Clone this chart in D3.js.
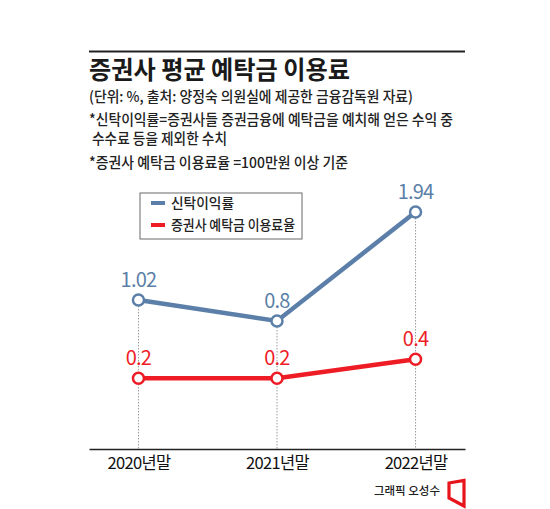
<!DOCTYPE html>
<html>
<head>
<meta charset="utf-8">
<script src="https://cdn.jsdelivr.net/npm/d3@7"></script>
<style>
  html, body { margin: 0; padding: 0; background: #fff; }
  svg { display: block; font-family: "Noto Sans CJK KR", "Noto Sans", sans-serif; }
</style>
</head>
<body>
<div id="chart"></div>
<script>
const years = ["2020년말", "2021년말", "2022년말"];
const trustRate = [1.02, 0.8, 1.94];     // 신탁이익률
const depositRate = [0.2, 0.2, 0.4];     // 증권사 예탁금 이용료율
const seriesNames = ["신탁이익률", "증권사 예탁금 이용료율"];
const seriesColors = ["#5b7fa8", "#ee1c25"];

const width = 550, height = 509;

const svg = d3.select("#chart")
  .append("svg")
  .attr("width", width)
  .attr("height", height);

// header
svg.append("line")
  .attr("x1", 89).attr("x2", 465)
  .attr("y1", 51.5).attr("y2", 51.5)
  .attr("stroke", "#222").attr("stroke-width", 2);

svg.append("text")
  .attr("x", 89).attr("y", 79)
  .attr("font-size", 25).attr("font-weight", 700)
  .attr("fill", "#1a1a1a")
  .attr("textLength", 261).attr("lengthAdjust", "spacingAndGlyphs")
  .text("증권사 평균 예탁금 이용료");

const notes = [
  {text: "(단위: %, 출처: 양정숙 의원실에 제공한 금융감독원 자료)", x: 89, y: 102, w: 324},
  {text: "*신탁이익률=증권사들 증권금융에 예탁금을 예치해 얻은 수익 중", x: 89, y: 125, w: 364},
  {text: "수수료 등을 제외한 수치", x: 92, y: 144, w: 135},
  {text: "*증권사 예탁금 이용료율 =100만원 이상 기준", x: 89, y: 168, w: 259}
];
svg.selectAll(".note")
  .data(notes)
  .enter()
  .append("text")
  .attr("class", "note")
  .attr("x", d => d.x).attr("y", d => d.y)
  .attr("font-size", 14.5)
  .attr("font-weight", 500)
  .attr("fill", "#222")
  .attr("textLength", d => d.w).attr("lengthAdjust", "spacingAndGlyphs")
  .text(d => d.text);

// scales
const x = d3.scalePoint()
  .domain(years)
  .range([89, 465])
  .padding(0.357);

const y = d3.scaleLinear()
  .domain([-0.54, 1.94])
  .range([449, 212]);

// dotted guides
svg.selectAll(".guide")
  .data(years)
  .enter()
  .append("line")
  .attr("class", "guide")
  .attr("x1", d => x(d)).attr("x2", d => x(d))
  .attr("y1", (d, i) => y(trustRate[i])).attr("y2", y.range()[0])
  .attr("stroke", "#999").attr("stroke-width", 1)
  .attr("stroke-dasharray", "1.5,1.5");

// x axis
const xAxis = svg.append("g")
  .attr("transform", `translate(0,${y.range()[0]})`)
  .call(d3.axisBottom(x).tickSize(0).tickSizeOuter(0).tickPadding(8));
xAxis.select(".domain").attr("stroke", "#222").attr("stroke-width", 1.5);
xAxis.selectAll("text")
  .attr("font-family", "\"Noto Sans CJK KR\", sans-serif")
  .attr("font-size", 16.5)
  .attr("letter-spacing", -0.7)
  .attr("fill", "#111");

// lines
const line = d3.line()
  .x((d, i) => x(years[i]))
  .y(d => y(d));

[trustRate, depositRate].forEach((vals, s) => {
  const color = seriesColors[s];
  svg.append("path")
    .datum(vals)
    .attr("fill", "none")
    .attr("stroke", color)
    .attr("stroke-width", 4.5)
    .attr("d", line);

  svg.selectAll(".pt" + s)
    .data(vals)
    .enter()
    .append("circle")
    .attr("class", "pt" + s)
    .attr("cx", (d, i) => x(years[i]))
    .attr("cy", d => y(d))
    .attr("r", 5.5)
    .attr("fill", "#fff")
    .attr("stroke", color)
    .attr("stroke-width", 2.5);

  svg.selectAll(".lbl" + s)
    .data(vals)
    .enter()
    .append("text")
    .attr("class", "lbl" + s)
    .attr("x", (d, i) => x(years[i]))
    .attr("y", d => y(d) - 13)
    .attr("text-anchor", "middle")
    .attr("font-size", 20)
    .attr("letter-spacing", -0.8)
    .attr("fill", color)
    .text(d => d);
});

// legend
const legend = svg.append("g");
legend.append("rect")
  .attr("x", 140).attr("y", 193)
  .attr("width", 162).attr("height", 46)
  .attr("fill", "#fff")
  .attr("stroke", "#444").attr("stroke-width", 0.8);

const items = legend.selectAll(".item")
  .data(seriesNames)
  .enter()
  .append("g")
  .attr("class", "item")
  .attr("transform", (d, i) => `translate(151,${203 + i * 22})`);
items.append("line")
  .attr("x1", 0).attr("x2", 14)
  .attr("stroke", (d, i) => seriesColors[i])
  .attr("stroke-width", 4);
items.append("text")
  .attr("x", 20).attr("y", 5)
  .attr("font-size", 14)
  .attr("font-weight", 500)
  .attr("fill", "#222")
  .attr("textLength", (d, i) => i === 0 ? 63 : 124)
  .attr("lengthAdjust", "spacingAndGlyphs")
  .text(d => d);

// credit
svg.append("text")
  .attr("x", 440).attr("y", 495)
  .attr("text-anchor", "end")
  .attr("font-size", 11.5)
  .attr("font-weight", 500)
  .attr("fill", "#222")
  .text("그래픽 오성수");

svg.append("path")
  .attr("d", "M449,483 L464,480.5 L464,506 L449,498 Z")
  .attr("fill", "none")
  .attr("stroke", "#e8141c")
  .attr("stroke-width", 3.2)
  .attr("stroke-linejoin", "miter");
</script>
</body>
</html>
